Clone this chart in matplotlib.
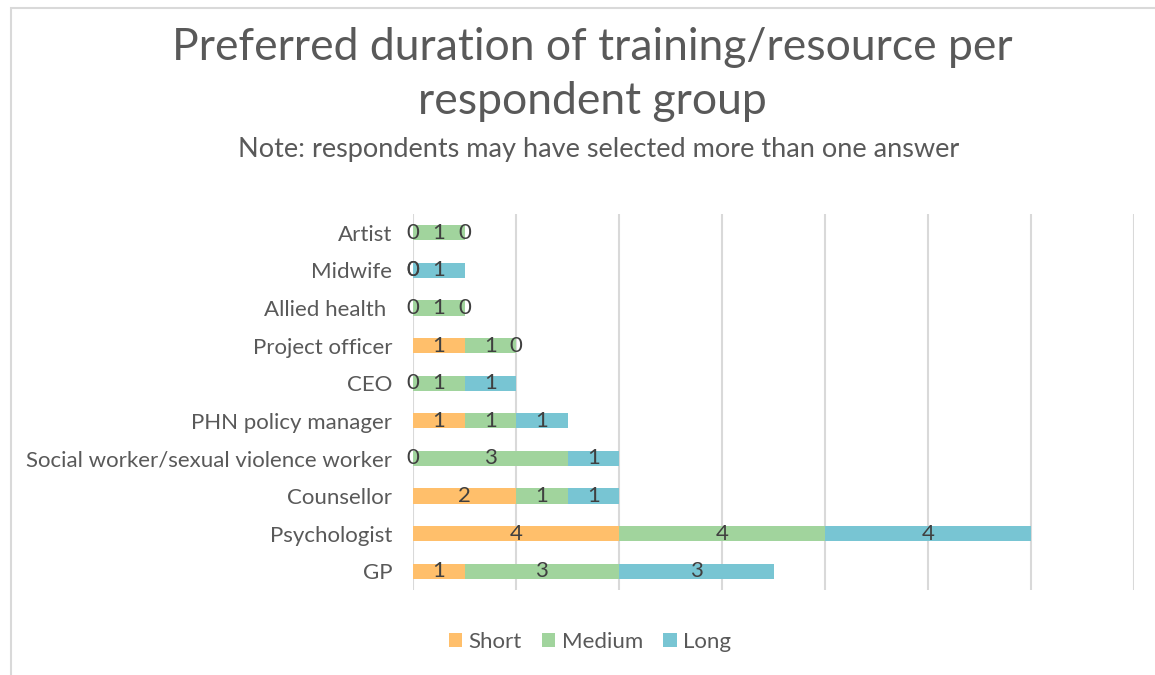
import matplotlib.pyplot as plt
import matplotlib.patches as mpatches
import numpy as np

plt.rcParams['font.family'] = ['Lato', 'DejaVu Sans']

# Datos (de abajo hacia arriba)
grupos = ['GP', 'Psychologist', 'Counsellor', 'Social worker/sexual violence worker',
          'PHN policy manager', 'CEO', 'Project officer', 'Allied health ', 'Midwife', 'Artist']
short = [1, 4, 2, 0, 1, 0, 1, 0, 0, 0]
medium = [3, 4, 1, 3, 1, 1, 1, 1, 0, 1]
long_ = [3, 4, 1, 1, 1, 1, 0, 0, 1, 0]

series = [('Short', short, '#FFBF6B'),
          ('Medium', medium, '#A1D49D'),
          ('Long', long_, '#78C5D3')]

gris = '#595959'

fig = plt.figure(figsize=(11.55, 6.75), dpi=100)
ax = fig.add_axes([413 / 1155, 1 - 590 / 675, (1134 - 413) / 1155, (590 - 214) / 675])

# Borde del área del gráfico (sin borde inferior visible)
fig.patches.append(mpatches.Rectangle((11 / 1155, -0.1), 1.2, 1.1 - 8 / 675,
                                      transform=fig.transFigure, fill=False,
                                      edgecolor='#d9d9d9', linewidth=1.5))

y = np.arange(len(grupos))
izquierda = np.zeros(len(grupos))
for nombre, valores, color in series:
    barras = ax.barh(y, valores, left=izquierda, height=0.4, color=color, label=nombre, zorder=3)
    ax.bar_label(barras, labels=[str(v) for v in valores], label_type='center',
                 fontsize=16, color='#404040', zorder=4)
    izquierda += np.array(valores)

ax.set_xlim(0, 14)
ax.set_ylim(-0.5, 9.5)
ax.set_yticks(y)
ax.set_yticklabels(grupos, fontsize=16, color=gris)
ax.set_xticks(range(0, 15, 2))
ax.set_xticklabels([])
ax.tick_params(axis='both', length=0)
ax.tick_params(axis='y', pad=15)
ax.grid(axis='x', color='#d9d9d9', linewidth=1.5, zorder=0)
for s in ax.spines.values():
    s.set_visible(False)

fig.text(0.513, 1 - 47 / 675, 'Preferred duration of training/resource per',
         ha='center', va='center', fontsize=32, color=gris)
fig.text(0.513, 1 - 102 / 675, 'respondent group',
         ha='center', va='center', fontsize=32, color=gris)
fig.text(0.518, 1 - 149 / 675, 'Note: respondents may have selected more than one answer',
         ha='center', va='center', fontsize=19.5, color=gris)

fig.legend(loc='center', bbox_to_anchor=(590 / 1155, 1 - 642 / 675), ncol=3, frameon=False,
           fontsize=16, labelcolor=gris, handlelength=0.6, handleheight=0.6,
           handletextpad=0.3, columnspacing=0.9)

fig.savefig('out.png', dpi=100)
